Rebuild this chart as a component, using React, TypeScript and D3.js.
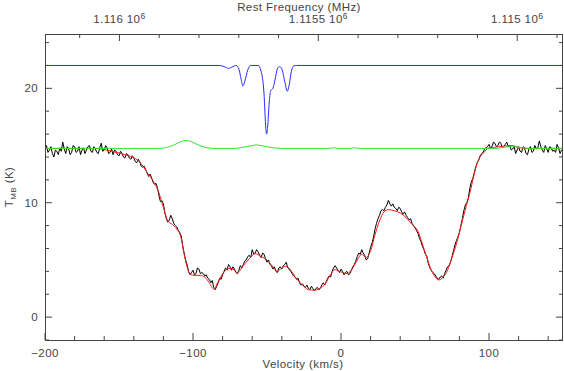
import React, { useRef, useEffect } from 'react';
import * as d3 from 'd3';

// rest frequency (MHz), used to map velocity -> frequency
const restFreq = 1115443;
const lightSpeed = 299792.458;

// observed spectrum: one channel per km/s from -200 to 150, T_MB in K
const channelVelocity = d3.range(-200, 151, 1);
const observedT = [
  14.7, 15.0, 14.4, 14.6, 14.9, 14.3, 14.0, 14.6, 14.5, 14.2,
  14.8, 14.5, 15.3, 14.7, 14.3, 14.9, 14.7, 14.2, 14.4, 15.0,
  14.9, 14.4, 14.5, 14.9, 14.2, 14.6, 14.8, 14.3, 14.6, 14.9,
  15.0, 14.5, 14.4, 14.9, 14.7, 14.4, 14.3, 14.8, 15.2, 14.5,
  14.6, 15.0, 14.8, 14.3, 14.4, 14.7, 14.2, 14.6, 14.5, 14.2,
  14.1, 14.5, 14.3, 14.0, 13.9, 14.3, 14.2, 13.9, 13.8, 14.1,
  13.9, 13.6, 13.5, 13.8, 13.6, 13.2, 13.1, 13.2, 12.9, 12.6,
  12.3, 12.5, 12.2, 11.8, 11.6, 11.7, 11.3, 10.6, 10.1, 10.2,
  9.9, 9.1, 8.6, 8.3, 8.5, 8.9, 8.6, 8.2, 8.0, 7.9,
  7.6, 7.4, 7.1, 6.3, 5.6, 5.0, 4.6, 4.0, 3.7, 3.9,
  4.1, 3.7, 3.8, 4.3, 4.2, 3.8, 3.9, 3.8, 3.6, 3.7,
  3.4, 3.3, 3.0, 3.2, 2.6, 2.4, 2.7, 3.0, 3.4, 3.3,
  3.7, 4.0, 4.3, 4.1, 4.6, 4.4, 4.1, 4.4, 4.2, 3.9,
  3.8, 4.1, 4.5, 4.3, 4.6, 4.9, 5.0, 5.3, 5.4, 5.2,
  5.9, 5.5, 5.6, 5.9, 5.7, 5.4, 5.2, 5.6, 5.5, 5.1,
  4.8, 5.0, 4.6, 4.5, 4.2, 4.4, 4.0, 3.9, 4.3, 4.4,
  4.2, 4.5, 4.6, 4.8, 4.3, 4.2, 4.0, 3.8, 3.6, 3.5,
  3.3, 3.4, 3.0, 2.8, 2.9, 2.7, 2.6, 2.8, 2.5, 2.4,
  2.7, 2.5, 2.3, 2.5, 2.6, 2.4, 2.5, 2.8, 3.0, 2.8,
  3.1, 3.4, 3.6, 3.5, 4.0, 4.3, 4.5, 4.3, 4.1, 3.9,
  4.2, 4.0, 3.7, 3.9, 4.0, 3.7, 3.8, 4.1, 4.4, 4.6,
  4.9, 5.3, 5.6, 5.5, 5.9, 5.6, 5.4, 5.0, 5.1, 5.6,
  6.1, 6.5, 7.0, 7.7, 8.2, 8.6, 8.9, 9.3, 9.4, 9.3,
  9.6, 9.8, 10.2, 9.9, 9.7, 9.9, 9.6, 9.5, 9.3, 9.6,
  9.5, 9.2, 9.0, 9.2, 8.9, 8.7, 8.5, 8.6, 8.2, 8.0,
  7.8, 7.6, 7.3, 6.9, 6.6, 6.2, 5.9, 5.5, 5.3, 4.7,
  4.3, 4.1, 3.9, 3.8, 3.6, 3.4, 3.3, 3.5, 3.6, 3.4,
  3.8, 4.1, 4.4, 4.5, 4.8, 5.3, 5.8, 6.3, 6.7, 7.0,
  7.4, 8.0, 8.6, 9.3, 9.8, 10.0, 10.4, 11.2, 11.8, 12.1,
  12.6, 13.1, 13.5, 13.7, 14.1, 14.3, 14.4, 14.7, 14.8, 14.9,
  15.1, 14.8, 14.9, 15.3, 15.2, 14.9, 15.0, 15.3, 15.2, 14.8,
  14.9, 15.1, 15.3, 14.9, 15.0, 14.6, 14.7, 14.9, 14.3, 14.6,
  14.9, 14.5, 14.4, 14.9, 14.8, 14.3, 14.2, 14.7, 14.9, 14.4,
  14.5, 15.0, 14.7, 14.8, 15.4, 14.9, 14.6, 14.4, 15.0, 14.7,
  14.4, 14.9, 14.8, 14.5, 14.6, 14.4, 15.1, 14.8, 14.3, 14.6,
  14.7,
];

// fitted model (red), [velocity, T]
const model: [number, number][] = [
  [-200, 14.75], [-165, 14.75], [-160, 14.65], [-155, 14.5], [-150, 14.35], [-145, 14.15], [-140, 13.95], [-135, 13.4],
  [-130, 12.45], [-126, 11.7], [-123, 10.85], [-120, 9.6], [-117, 8.4], [-114, 8.1], [-111, 7.7], [-108, 6.9],
  [-106, 5.5], [-104, 4.4], [-102, 3.75], [-99, 3.65], [-95, 3.65], [-92, 3.5], [-89, 3.0], [-86, 2.45],
  [-83, 3.1], [-79, 3.95], [-76, 4.25], [-73, 4.2], [-70, 3.9], [-66, 4.5], [-62, 5.1], [-58, 5.55],
  [-54, 5.3], [-50, 5.0], [-46, 4.4], [-43, 4.0], [-40, 4.3], [-37, 4.45], [-34, 4.1], [-30, 3.35],
  [-26, 2.8], [-22, 2.4], [-18, 2.35], [-14, 2.55], [-11, 2.85], [-8, 3.5], [-4, 4.15], [0, 3.95],
  [4, 3.8], [8, 4.3], [11, 5.0], [14, 5.5], [17, 5.2], [20, 5.8], [23, 7.2], [26, 8.4],
  [29, 9.2], [32, 9.4], [36, 9.3], [40, 9.1], [44, 8.7], [48, 8.1], [52, 7.5], [55, 6.4],
  [58, 5.2], [61, 4.1], [64, 3.45], [66, 3.25], [69, 3.5], [72, 4.1], [75, 5.2], [78, 6.4],
  [81, 7.9], [84, 9.4], [87, 10.8], [90, 12.5], [93, 13.8], [96, 14.3], [100, 14.8], [104, 14.85],
  [110, 14.95], [115, 15.0], [120, 14.85], [124, 14.75], [150, 14.75],
];

// green component
const green: [number, number][] = [
  [-200, 14.75], [-124, 14.75], [-120, 14.78], [-116, 14.9], [-112, 15.1], [-108, 15.35], [-105, 15.45], [-102, 15.38],
  [-98, 15.15], [-94, 14.93], [-90, 14.8], [-86, 14.75], [-72, 14.75], [-68, 14.8], [-64, 14.9], [-60, 15.0],
  [-57, 15.05], [-54, 15.0], [-50, 14.9], [-46, 14.8], [-42, 14.76], [-40, 14.75], [-8, 14.75], [-5, 14.8],
  [-2, 14.75], [6, 14.75], [9, 14.8], [12, 14.75], [105, 14.75], [110, 14.85], [116, 14.9], [122, 14.82],
  [128, 14.75], [150, 14.75],
];

// blue (offset) component
const blue: [number, number][] = [
  [-200, 22.0], [-82, 22.0], [-79, 21.9], [-76, 21.75], [-73, 21.9], [-71, 22.0], [-69, 21.7], [-67.5, 20.8],
  [-66.3, 20.2], [-65, 20.6], [-63, 21.6], [-61, 22.0], [-56, 22.0], [-54, 21.5], [-52, 19.5], [-50.8, 16.5],
  [-50.3, 16.0], [-49.6, 16.6], [-48.6, 18.6], [-47.5, 19.8], [-46, 20.0], [-44.5, 20.8], [-43, 21.7], [-41.5, 21.9],
  [-40, 21.7], [-38, 20.6], [-36.3, 19.75], [-35, 20.3], [-33.5, 21.5], [-32, 21.95], [-30, 22.0], [150, 22.0],
];

const velocityMajor = [-200, -100, 0, 100];
const tempMajor = [0, 10, 20];
const freqMajor = [1116000, 1115500, 1115000];
const freqLabels = ['1.116', '1.1155', '1.115'];

const SpectrumChart = () => {
  const svgRef = useRef<SVGSVGElement>(null);

  useEffect(() => {
    const width = 564;
    const height = 371;
    const left = 45, right = 563, top = 34, bottom = 340;
    const svg = d3.select(svgRef.current).attr('width', width).attr('height', height);
    svg.selectAll('*').remove();

    const x = d3.scaleLinear().domain([-200, 150]).range([left, right]);
    const y = d3.scaleLinear().domain([-2, 24.75]).range([bottom, top]);
    const toFreq = (v: number) => restFreq * (1 - v / lightSpeed);
    const fx = d3.scaleLinear().domain([toFreq(-200), toFreq(150)]).range([left, right]);

    const axisColor = '#444';
    const font = '"Liberation Sans", Arial, sans-serif';

    svg.append('defs').append('clipPath').attr('id', 'plot-clip')
      .append('rect').attr('x', left).attr('y', top).attr('width', right - left).attr('height', bottom - top);

    const observed: [number, number][] = channelVelocity.map((v, i) => [v, observedT[i]]);
    const line = d3.line<[number, number]>().x(d => x(d[0])).y(d => y(d[1]));
    const smooth = d3.line<[number, number]>().x(d => x(d[0])).y(d => y(d[1])).curve(d3.curveMonotoneX);

    const plot = svg.append('g').attr('clip-path', 'url(#plot-clip)');
    plot.append('path').attr('d', line(observed)).attr('fill', 'none').attr('stroke', '#000').attr('stroke-width', 1);
    plot.append('path').attr('d', smooth(model)).attr('fill', 'none').attr('stroke', '#ff1a1a').attr('stroke-width', 1);
    plot.append('path').attr('d', smooth(green)).attr('fill', 'none').attr('stroke', '#2ee62e').attr('stroke-width', 1);
    plot.append('path').attr('d', smooth(blue)).attr('fill', 'none').attr('stroke', '#2a2aff').attr('stroke-width', 1);

    // frame
    svg.append('rect')
      .attr('x', left + 0.5).attr('y', top + 0.5)
      .attr('width', right - left - 1).attr('height', bottom - top)
      .attr('fill', 'none').attr('stroke', axisColor).attr('stroke-width', 1);

    const ticks = svg.append('g').attr('stroke', axisColor).attr('stroke-width', 1);
    // velocity ticks (bottom)
    d3.range(-200, 151, 20).forEach(v => {
      const len = velocityMajor.includes(v) ? 7 : 4;
      ticks.append('line').attr('x1', x(v)).attr('x2', x(v)).attr('y1', bottom).attr('y2', bottom - len);
    });
    // frequency ticks (top)
    d3.range(1114900, 1116200, 100).forEach(f => {
      const fxv = fx(f);
      if (fxv < left || fxv > right) return;
      const len = f % 500 === 0 ? 7 : 4;
      ticks.append('line').attr('x1', fxv).attr('x2', fxv).attr('y1', top).attr('y2', top + len);
    });
    // temperature ticks (left and right)
    d3.range(-2, 25, 2).forEach(t => {
      const len = tempMajor.includes(t) ? 7 : 4;
      ticks.append('line').attr('x1', left).attr('x2', left + len).attr('y1', y(t)).attr('y2', y(t));
      ticks.append('line').attr('x1', right).attr('x2', right - len).attr('y1', y(t)).attr('y2', y(t));
    });

    const txt = svg.append('g').attr('font-family', font).attr('font-size', 11.5)
      .attr('letter-spacing', 0.4).attr('fill', axisColor);

    velocityMajor.forEach(v => {
      txt.append('text').attr('x', x(v)).attr('y', 356.5).attr('text-anchor', 'middle')
        .text(v < 0 ? `\u2212${Math.abs(v)}` : `${v}`);
    });
    txt.append('text').attr('x', 303).attr('y', 367.5).attr('text-anchor', 'middle').text('Velocity (km/s)');

    tempMajor.forEach(t => {
      txt.append('text').attr('x', 38).attr('y', y(t) + 4).attr('text-anchor', 'end').text(`${t}`);
    });

    freqMajor.forEach((f, i) => {
      const t = txt.append('text').attr('x', fx(f)).attr('y', 23).attr('text-anchor', 'middle');
      t.append('tspan').text(`${freqLabels[i]} 10`);
      t.append('tspan').attr('dy', -4).attr('font-size', 8.5).text('6');
    });
    txt.append('text').attr('x', 299).attr('y', 10.5).attr('text-anchor', 'middle').text('Rest Frequency (MHz)');

    const yl = txt.append('text').attr('transform', `translate(13,${(top + bottom) / 2}) rotate(-90)`).attr('text-anchor', 'middle');
    yl.append('tspan').text('T');
    yl.append('tspan').attr('font-size', 8).attr('dy', 3).text('MB');
    yl.append('tspan').attr('dy', -3).text(' (K)');
  }, []);

  return (
    <svg ref={svgRef} style={{ position: 'absolute', left: 0, top: 0 }}></svg>
  );
};

export default function App() {
  return <SpectrumChart />;
}
